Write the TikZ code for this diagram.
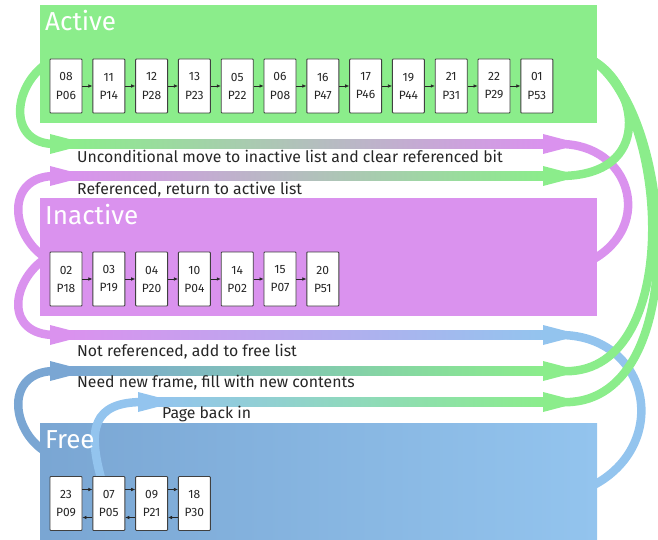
\documentclass[tikz,border=0pt]{standalone}
\usepackage{fontspec}
\setmainfont{Fira Sans}
\usetikzlibrary{arrows.meta,calc}
\definecolor{actg}{RGB}{139,237,139}
\definecolor{inav}{RGB}{218,146,238}
\definecolor{freeL}{RGB}{122,166,211}
\definecolor{freeR}{RGB}{147,196,238}
\definecolor{greyg}{RGB}{168,188,176}
\definecolor{lavb}{RGB}{180,172,238}
\definecolor{tealA}{RGB}{122,200,168}
\definecolor{tealB}{RGB}{138,218,200}
\newcommand{\ribhead}[2]{\fill[#1] ($(#2)+(0,-10)$) -- ($(#2)+(22,-4.25)$) -- ($(#2)+(22,4.25)$) -- ($(#2)+(0,10)$) -- cycle;}
\newcommand{\ribband}[5]{\shade[left color=#1, middle color=#2, right color=#3] ($(#4)+(20,-4.25)$) rectangle ($(#5)+(2,4.25)$);}
\begin{document}
\begin{tikzpicture}[x=1pt,y=-1pt,
  panelbox/.style={rectangle, inner sep=0pt, minimum width=557pt, minimum height=118pt, draw=none},
  title/.style={anchor=base west, inner sep=0pt, text=white, font=\fontsize{26}{26}\selectfont},
  lbl/.style={anchor=base west, inner sep=0pt, text=black!85, font=\fontsize{15.8}{17}\selectfont},
  pagebox/.style={rectangle, draw=black!75, line width=0.9pt, fill=white, rounded corners=0.8pt, minimum width=32pt, minimum height=54pt, inner sep=0pt, align=center, text=black!85, font=\fontsize{12}{18}\selectfont},
  smallarr/.style={-{Latex[length=4pt,width=3.6pt]}, line width=0.6pt, draw=black!85},
  ribbon/.style={line width=8.5pt},
]
\useasboundingbox (0,0) rectangle (658,540);
% panels
\node[panelbox, fill=actg] (active) at (318.5,64) {};
\node[panelbox, fill=inav] (inactive) at (318.5,257) {};
\node[panelbox, left color=freeL, right color=freeR] (free) at (318.5,482) {};
% ribbon coordinates
\coordinate (h1L) at (50,144); \coordinate (h1R) at (543,144);
\coordinate (h2L) at (50,176); \coordinate (h2R) at (543,176);
\coordinate (h3L) at (50,335); \coordinate (h3R) at (543,335);
\coordinate (h4L) at (50,371); \coordinate (h4R) at (543,371);
\coordinate (h5L) at (138,402); \coordinate (h5R) at (543,402);
\coordinate (actW) at (46,64); \coordinate (actE) at (592,60);
\coordinate (inaW) at (46,258); \coordinate (inaE) at (592,260);
\coordinate (freeW) at (46,452); \coordinate (freeE) at (592,486);
\coordinate (f1top) at (101,478);
% left curves
\draw[ribbon, actg] (actW) .. controls (12,88) and (8,144) .. ($(h1L)+(5,0)$);
\draw[ribbon, inav] (inaW) .. controls (10,235) and (5,176) .. ($(h2L)+(5,0)$);
\draw[ribbon, inav] (inaW) .. controls (10,282) and (5,335) .. ($(h3L)+(5,0)$);
\draw[ribbon, freeL] (freeW) .. controls (10,430) and (5,371) .. ($(h4L)+(5,0)$);
\draw[ribbon, freeR] (f1top) .. controls (88,430) and (92,402) .. ($(h5L)+(5,0)$);
% right curves
\draw[ribbon, inav] ($(h1R)+(17,0)$) .. controls (630,144) and (655,225) .. (inaE);
\draw[ribbon, freeR] ($(h3R)+(17,0)$) .. controls (650,335) and (672,445) .. (freeE);
\draw[ribbon, actg] (actE) .. controls (638,85) and (655,176) .. ($(h2R)+(17,0)$);
\draw[ribbon, actg] (actE) .. controls (670,110) and (685,380) .. ($(h4R)+(17,0)$);
\draw[ribbon, actg] (actE) .. controls (675,110) and (695,410) .. ($(h5R)+(17,0)$);
% bands
\ribband{actg}{greyg}{inav}{h1L}{h1R}
\ribband{inav}{greyg}{actg}{h2L}{h2R}
\ribband{inav}{lavb}{freeR}{h3L}{h3R}
\ribband{freeL}{tealA}{actg}{h4L}{h4R}
\ribband{freeR}{tealB}{actg}{h5L}{h5R}
% heads
\ribhead{actg}{h1L} \ribhead{inav}{h1R}
\ribhead{inav}{h2L} \ribhead{actg}{h2R}
\ribhead{inav}{h3L} \ribhead{freeR}{h3R}
\ribhead{freeL}{h4L} \ribhead{actg}{h4R}
\ribhead{freeR}{h5L} \ribhead{actg}{h5R}
% titles
\node[title] (tAct) at (45,31) {Active};
\node[title] (tIna) at (45,224) {Inactive};
\node[title] (tFree) at (45,448) {Free};
% labels
\node[lbl] (l1) at (77,162.5) {Unconditional move to inactive list and clear referenced bit};
\node[lbl] (l2) at (77,194) {Referenced, return to active list};
\node[lbl] (l3) at (77,356) {Not referenced, add to free list};
\node[lbl] (l4) at (77,387) {Need new frame, fill with new contents};
\node[lbl] (l5) at (162,418) {Page back in};
% active list
\foreach \n/\p [count=\i from 0] in {08/P06,11/P14,12/P28,13/P23,05/P22,06/P08,16/P47,17/P46,19/P44,21/P31,22/P29,01/P53}
  \node[pagebox] (a\i) at ({66+42.8*\i},86) {\n\\\p};
\foreach \i [evaluate=\i as \j using int(\i+1)] in {0,...,10}
  \draw[smallarr] (a\i) -- (a\j);
% inactive list
\foreach \n/\p [count=\i from 0] in {02/P18,03/P19,04/P20,10/P04,14/P02,15/P07,20/P51}
  \node[pagebox] (b\i) at ({66+42.8*\i},279) {\n\\\p};
\foreach \i [evaluate=\i as \j using int(\i+1)] in {0,...,5}
  \draw[smallarr] (b\i) -- (b\j);
% free list
\foreach \n/\p [count=\i from 0] in {23/P09,07/P05,09/P21,18/P30}
  \node[pagebox] (f\i) at ({66+42.8*\i},503.5) {\n\\\p};
\foreach \i [evaluate=\i as \j using int(\i+1)] in {0,...,2}{
  \draw[smallarr] ([yshift=14pt]f\i.east) -- ([yshift=14pt]f\j.west);
  \draw[smallarr] ([yshift=-14pt]f\j.west) -- ([yshift=-14pt]f\i.east);
}
\end{tikzpicture}
\end{document}
